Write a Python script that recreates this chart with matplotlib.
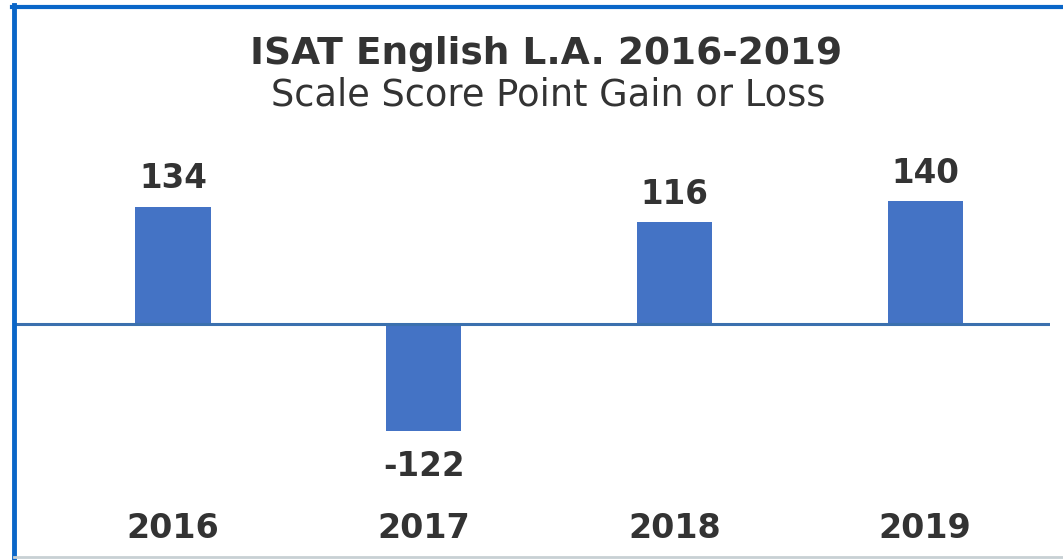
import matplotlib.pyplot as plt
from matplotlib.lines import Line2D

years = ["2016", "2017", "2018", "2019"]
gains = [134, -122, 116, 140]

bar_color = "#4473c5"
text_color = "#333333"

plt.rcParams['font.family'] = ['DejaVu Sans']

W, H = 1063, 560
fig = plt.figure(figsize=(W / 100, H / 100), dpi=100)
fig.patch.set_facecolor("white")

# axes placed in pixel terms: x 16..1050, y 140..470 (from top)
ax = fig.add_axes([16 / W, 1 - 470 / H, (1050 - 16) / W, (470 - 140) / H])
x = list(range(len(years)))
ax.bar(x, gains, width=0.30, color=bar_color, zorder=2)
ax.axhline(0, color="#3b70ae", linewidth=2.2, zorder=3)

ax.set_xlim(-0.626, 3.498)
ax.set_ylim(-167, 210)

for xi, v in zip(x, gains):
    if v >= 0:
        ax.annotate(str(v), (xi, v), xytext=(0, 13), textcoords="offset points",
                    ha="center", va="baseline", fontsize=23.5, fontweight="bold",
                    color=text_color)
    else:
        ax.annotate(str(v), (xi, v), xytext=(0, -14), textcoords="offset points",
                    ha="center", va="top", fontsize=23.5, fontweight="bold",
                    color=text_color)

ax.set_xticks(x)
ax.set_xticklabels(years, fontsize=24, fontweight="bold", color=text_color)
ax.tick_params(axis="x", length=0, pad=30)
ax.set_yticks([])
for s in ax.spines.values():
    s.set_visible(False)
ax.set_facecolor("none")

fig.text(546 / W, 1 - 64 / H, "ISAT English L.A. 2016-2019", ha="center", va="baseline",
         fontsize=27, fontweight="bold", color=text_color)
fig.text(548 / W, 1 - 106 / H, "Scale Score Point Gain or Loss", ha="center", va="baseline",
         fontsize=26.5, color=text_color)

# frame around the chart
fig.add_artist(Line2D([14 / W, 14 / W], [0, 1 - 5 / H], color="#0a66c8", linewidth=3.5))
fig.add_artist(Line2D([12 / W, 1], [1 - 6.5 / H, 1 - 6.5 / H], color="#0a66c8", linewidth=3))
fig.add_artist(Line2D([14 / W, 1], [1 - 557 / H, 1 - 557 / H], color="#c8d0d4", linewidth=2))

fig.savefig("out.png", dpi=100)
